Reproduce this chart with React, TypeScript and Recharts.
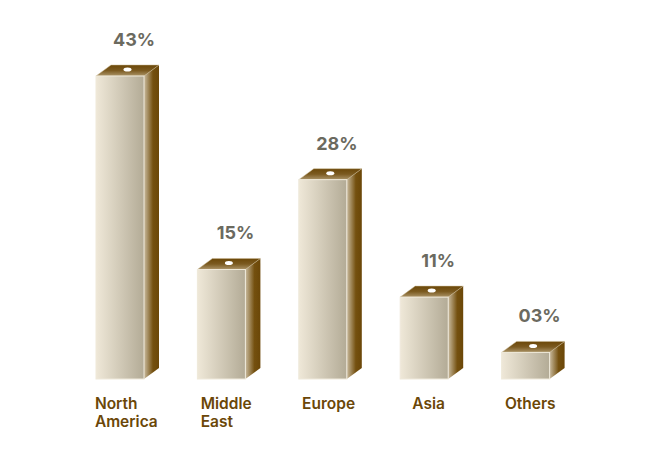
import React from 'react';
import { BarChart, Bar, XAxis, YAxis, LabelList } from 'recharts';

const regions = ['North America', 'Middle East', 'Europe', 'Asia', 'Others'];
const shares = [43, 15, 28, 11, 3];

const chartData = regions.map((region, i) => ({ region, share: shares[i] }));

const depthX = 15;
const depthY = 11;
const fontFamily = 'Inter, "Open Sans", sans-serif';

// 3D box: front face from the bar rect, side and top faces pushed back by the depth
const BoxShape = (props: any) => {
  const { x, y, width, background } = props;
  const bottom = background.y + background.height;
  const right = x + width;
  return (
    <g>
      <polygon
        points={`${right},${y} ${right + depthX},${y - depthY} ${right + depthX},${bottom - depthY} ${right},${bottom}`}
        fill="url(#sideFace)"
      />
      <polygon
        points={`${x},${y} ${x + depthX},${y - depthY} ${right + depthX},${y - depthY} ${right},${y}`}
        fill="url(#topFace)"
        stroke="#c9b994"
        strokeWidth={0.5}
      />
      <rect x={x} y={y} width={width} height={bottom - y} fill="url(#frontFace)" stroke="#efe9da" strokeWidth={1} />
      <ellipse cx={x + width / 2 + depthX / 2} cy={y - depthY / 2 - 1} rx={4} ry={2} fill="#ffffff" />
    </g>
  );
};

const ShareLabel = (props: any) => {
  const { x, y, width, value } = props;
  return (
    <text
      x={x + width / 2 + 14}
      y={y - 30}
      textAnchor="middle"
      fontFamily={fontFamily}
      fontSize={18}
      fontWeight={700}
      fill="#6b6a5f"
    >
      {`${String(value).padStart(2, '0')}%`}
    </text>
  );
};

// Lines of a label share a left edge; the block is centred roughly on the bar
const RegionTick = (props: any) => {
  const { x, payload } = props;
  const lines = String(payload.value).split(' ');
  const longest = Math.max(...lines.map((line) => line.length));
  const left = x + 6 - longest * 4.4;
  return (
    <text textAnchor="start" fontFamily={fontFamily} fontSize={15.5} fontWeight={600} fill="#6b4708">
      {lines.map((line, i) => (
        <tspan key={line} x={left} y={409 + i * 18}>
          {line}
        </tspan>
      ))}
    </text>
  );
};

export default function App() {
  return (
    <div style={{ position: 'absolute', left: 0, top: 0, width: 650, height: 450, background: '#fff' }}>
      <BarChart
        width={650}
        height={450}
        data={chartData}
        margin={{ top: 76, right: 74, bottom: 0, left: 69 }}
        barCategoryGap={0}
      >
        <defs>
          <linearGradient id="frontFace" x1="0" y1="0" x2="1" y2="0">
            <stop offset="0%" stopColor="#efe8d8" />
            <stop offset="100%" stopColor="#b3ab96" />
          </linearGradient>
          <linearGradient id="sideFace" x1="0" y1="0" x2="1" y2="0">
            <stop offset="0%" stopColor="#c9bb9f" />
            <stop offset="60%" stopColor="#74500f" />
            <stop offset="100%" stopColor="#6b4708" />
          </linearGradient>
          <linearGradient id="topFace" x1="0" y1="0" x2="0" y2="1">
            <stop offset="0%" stopColor="#6b4708" />
            <stop offset="50%" stopColor="#7b5a20" />
            <stop offset="100%" stopColor="#ab9468" />
          </linearGradient>
        </defs>
        <XAxis dataKey="region" axisLine={false} tickLine={false} height={71} interval={0} tick={<RegionTick />} />
        <YAxis hide domain={[-0.85, 43]} />
        <Bar dataKey="share" barSize={48} shape={<BoxShape />} isAnimationActive={false}>
          <LabelList dataKey="share" content={<ShareLabel />} />
        </Bar>
      </BarChart>
    </div>
  );
}
